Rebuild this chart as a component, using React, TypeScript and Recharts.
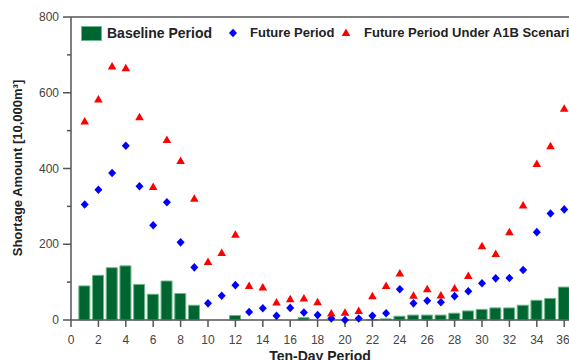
import { ComposedChart, Bar, Scatter, XAxis, YAxis, ReferenceLine } from "recharts";

// ten-day periods of the year
const periods = [
  1, 2, 3, 4, 5, 6, 7, 8, 9, 10, 11, 12, 13, 14, 15, 16, 17, 18,
  19, 20, 21, 22, 23, 24, 25, 26, 27, 28, 29, 30, 31, 32, 33, 34, 35, 36,
];
const baseline = [
  90, 118, 138, 143, 94, 68, 103, 70, 39, 0, 0, 12, 0, 0, 0, 0, 6, 0,
  0, 0, 0, 1, 3, 10, 13, 13, 13, 18, 24, 28, 32, 32, 39, 52, 57, 87,
];
const future = [
  305, 344, 388, 460, 353, 250, 311, 205, 139, 44, 64, 92, 21, 31, 11, 32, 20, 13,
  4, 0, 4, 11, 18, 81, 44, 51, 47, 63, 76, 97, 110, 111, 132, 232, 281, 292,
];
const a1b = [
  524, 582, 669, 665, 535, 351, 475, 420, 320, 153, 177, 225, 90, 86, 46, 55, 57, 47,
  17, 19, 24, 63, 90, 123, 64, 81, 65, 83, 116, 195, 174, 232, 302, 412, 459, 558,
];
const xTicks = [0, 2, 4, 6, 8, 10, 12, 14, 16, 18, 20, 22, 24, 26, 28, 30, 32, 34, 36];
const yTicks = [0, 100, 200, 300, 400, 500, 600, 700, 800];

const chartData = periods.map((p, i) => ({
  period: p,
  baseline: baseline[i],
  future: future[i],
  a1b: a1b[i],
}));

const FONT = "'Liberation Sans', Arial, sans-serif";
const GREEN = "#006631";
const AXIS = "#555";

const Diamond = (props: any) => {
  const { cx, cy } = props;
  return (
    <path
      d={`M${cx},${cy - 4.3}L${cx + 4},${cy}L${cx},${cy + 4.3}L${cx - 4},${cy}Z`}
      fill="#0000ff"
    />
  );
};

const Triangle = (props: any) => {
  const { cx, cy } = props;
  return (
    <path
      d={`M${cx},${cy - 4.5}L${cx + 4.3},${cy + 3}L${cx - 4.3},${cy + 3}Z`}
      fill="#ff0000"
    />
  );
};

const YTick = (props: any) => {
  const { x, y, payload } = props;
  const major = payload.value % 200 === 0;
  return (
    <g>
      <line x1={x - (major ? 8 : 4)} x2={x} y1={y} y2={y} stroke={AXIS} strokeWidth={1.5} />
      {major && (
        <text x={x - 12} y={y} dy="0.35em" textAnchor="end" fontSize={12} fill="#444" fontFamily={FONT}>
          {payload.value}
        </text>
      )}
    </g>
  );
};

export default function App() {
  return (
    <div style={{ position: "relative", width: 569, height: 360, overflow: "hidden", background: "#fff" }}>
      <style>{`body{margin:0}`}</style>
      <ComposedChart
        width={569}
        height={360}
        data={chartData}
        margin={{ top: 17, right: 0, left: 0, bottom: 0 }}
      >
        <XAxis
          dataKey="period"
          type="number"
          domain={[0, 36.35]}
          allowDataOverflow
          ticks={xTicks}
          height={40}
          tickSize={7}
          tickMargin={8}
          axisLine={{ stroke: AXIS, strokeWidth: 1.5 }}
          tickLine={{ stroke: AXIS, strokeWidth: 1.5 }}
          tick={{ fontSize: 12, fill: "#444", fontFamily: FONT }}
          label={() => (
            <text x={320} y={361} textAnchor="middle" fontSize={14} fontWeight="bold" fill="#222" fontFamily={FONT}>
              Ten-Day Period
            </text>
          )}
        />
        <YAxis
          type="number"
          domain={[0, 800]}
          ticks={yTicks}
          width={71}
          tickSize={0}
          tickMargin={0}
          axisLine={{ stroke: AXIS, strokeWidth: 1.5 }}
          tickLine={false}
          tick={<YTick />}
          label={() => (
            <text
              transform="translate(22,168) rotate(-90)"
              textAnchor="middle"
              fontSize={13}
              fontWeight="bold"
              fill="#222"
              fontFamily={FONT}
            >
              Shortage Amount [10,000m³]
            </text>
          )}
        />
        <ReferenceLine y={800} stroke={AXIS} strokeWidth={1.5} />
        <Bar dataKey="baseline" barSize={11} fill={GREEN} stroke="#6fb688" strokeWidth={1} isAnimationActive={false} />
        <Scatter dataKey="future" shape={<Diamond />} isAnimationActive={false} />
        <Scatter dataKey="a1b" shape={<Triangle />} isAnimationActive={false} />
      </ComposedChart>

      {/* legend drawn inside the plot */}
      <div style={{ position: "absolute", left: 0, top: 0, width: 569, height: 60, fontFamily: FONT, fontWeight: "bold", color: "#222", whiteSpace: "nowrap" }}>
        <div style={{ position: "absolute", left: 81, top: 26, width: 19, height: 13, background: GREEN, border: "1px solid #6fb688" }} />
        <span style={{ position: "absolute", left: 107, top: 24, fontSize: 14, lineHeight: "18px" }}>Baseline Period</span>
        <svg style={{ position: "absolute", left: 227, top: 27 }} width={12} height={12}>
          <path d="M6,1.7L10,6L6,10.3L2,6Z" fill="#0000ff" />
        </svg>
        <span style={{ position: "absolute", left: 250, top: 25, fontSize: 13, lineHeight: "16px" }}>Future Period</span>
        <svg style={{ position: "absolute", left: 340, top: 27 }} width={12} height={12}>
          <path d="M6,1.5L10.3,9L1.7,9Z" fill="#ff0000" />
        </svg>
        <span style={{ position: "absolute", left: 364, top: 25, fontSize: 13, lineHeight: "16px" }}>Future Period Under A1B Scenario</span>
      </div>
    </div>
  );
}
